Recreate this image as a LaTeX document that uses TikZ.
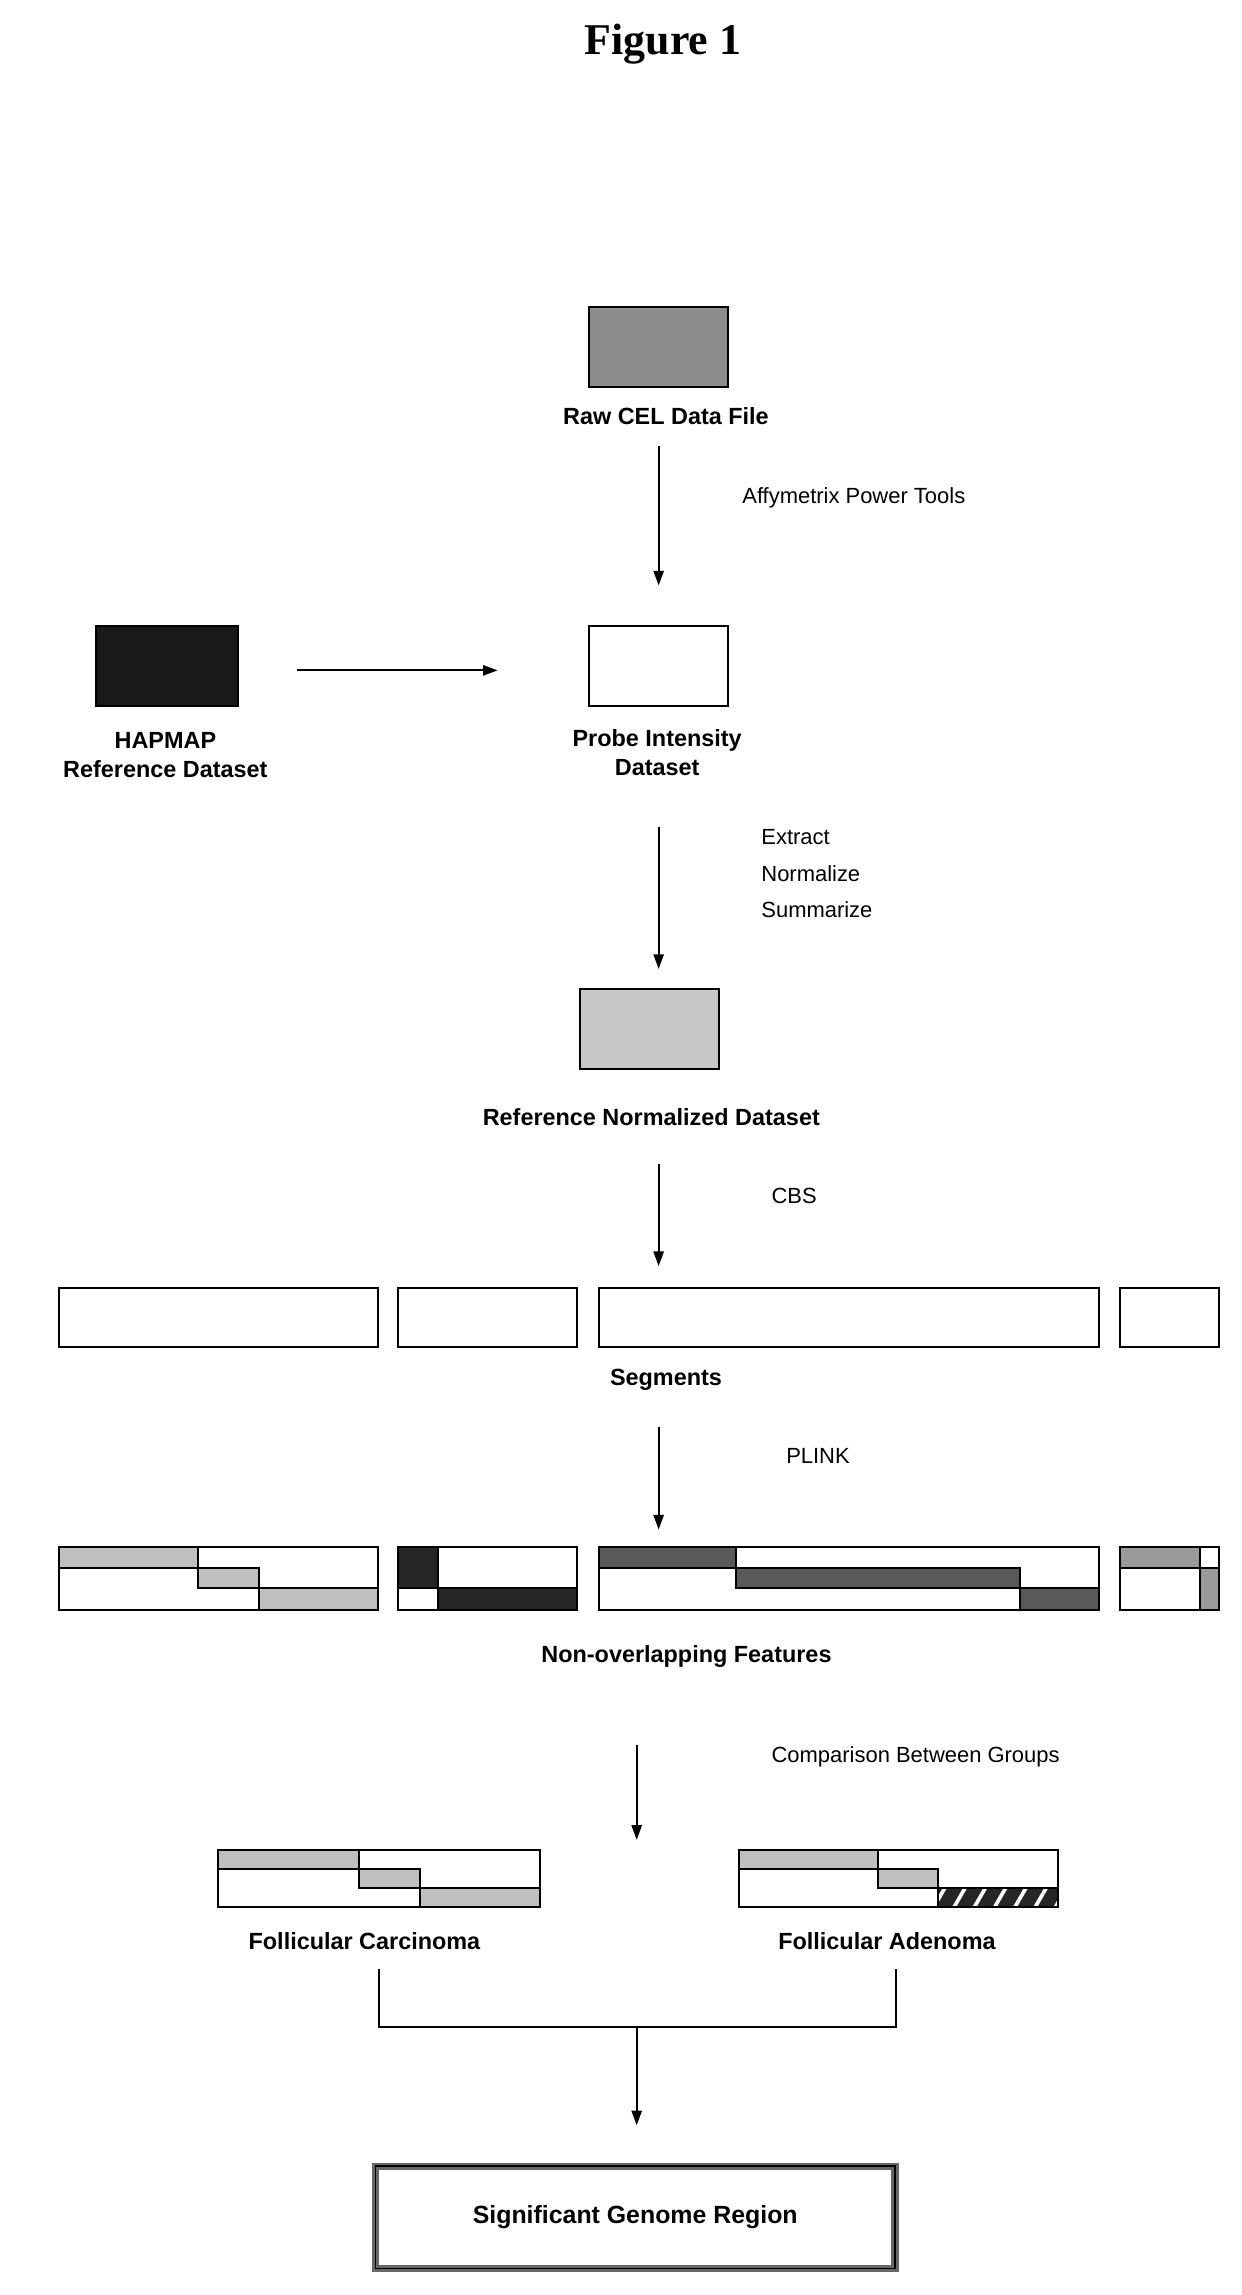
\documentclass[tikz,border=0pt]{standalone}
\usepackage{fontspec}
\setmainfont{Liberation Sans}
\newfontfamily\titlefont{Liberation Serif}
\usetikzlibrary{arrows.meta,patterns.meta}

\tikzset{
  lbl/.style={font=\fontsize{16}{20}\selectfont\bfseries, align=center, inner sep=0pt},
  note/.style={font=\fontsize{15}{25}\selectfont, align=left, anchor=west, inner sep=0pt},
  flow/.style={-{Triangle[length=10pt,width=7pt]}, line width=1.3pt},
  blk/.style={draw, line width=1.4pt, minimum width=#1, minimum height=55pt, inner sep=0pt},
  seg/.style={draw, line width=1.4pt},
}

\begin{document}
\begin{tikzpicture}[x=1pt,y=-1pt]
\useasboundingbox (0,0) rectangle (848,1568);

% title
\node[font=\titlefont\fontsize{30}{34}\selectfont\bfseries] (title) at (453,30) {Figure 1};

% top boxes
\node[blk=95pt, fill=black!45] (raw) at (450,237) {};
\node[lbl] (rawl) at (455,284) {Raw CEL Data File};
\node[blk=97pt, fill=black!90] (hap) at (114,455) {};
\node[lbl] (hapl) at (113,516) {HAPMAP\\Reference Dataset};
\node[blk=95pt] (probe) at (450,455) {};
\node[lbl] (probel) at (449,514) {Probe Intensity\\Dataset};
\node[blk=95pt, fill=black!22] (norm) at (444,703) {};
\node[lbl] (norml) at (445,763) {Reference Normalized Dataset};

\coordinate (a1) at (450,305); \coordinate (a2) at (450,400);
\draw[flow] (a1) -- (a2);
\node[note] (apt) at (507,340) {Affymetrix Power Tools};
\coordinate (h1) at (203,458); \coordinate (h2) at (340,458);
\draw[flow] (h1) -- (h2);
\coordinate (b1) at (450,565); \coordinate (b2) at (450,662);
\draw[flow] (b1) -- (b2);
\node[note] (ens) at (520,597) {Extract\\Normalize\\Summarize};
\coordinate (c1) at (450,795); \coordinate (c2) at (450,865);
\draw[flow] (c1) -- (c2);
\node[note] (cbs) at (527,817) {CBS};

% segments
\foreach \l/\r in {40/258, 272/394, 409/751, 765/833}
  \draw[seg] (\l,880) rectangle (\r,920);
\node[lbl] (segl) at (455,943) {Segments};
\coordinate (d1) at (450,975); \coordinate (d2) at (450,1045);
\draw[flow] (d1) -- (d2);
\node[note] (plink) at (537,995) {PLINK};

% non-overlapping features
\foreach \l/\r/\t/\b/\c in {40/135/1057/1071/25, 135/177/1071/1085/25, 177/258/1085/1100/25,
  272/299/1057/1085/85, 299/394/1085/1100/85,
  409/503/1057/1071/65, 503/697/1071/1085/65, 697/751/1085/1100/65,
  765/820/1057/1071/40, 820/833/1071/1100/40}
  \draw[seg, fill=black!\c] (\l,\t) rectangle (\r,\b);
\foreach \l/\r in {40/258, 272/394, 409/751, 765/833}
  \draw[seg] (\l,1057) rectangle (\r,1100);
\node[lbl] (featl) at (469,1132) {Non-overlapping Features};
\coordinate (e1) at (435,1192); \coordinate (e2) at (435,1257);
\draw[flow] (e1) -- (e2);
\node[note] (cmp) at (527,1200) {Comparison Between Groups};

% groups
\foreach \l/\r/\t/\b in {149/245/1264/1277, 245/287/1277/1290, 287/369/1290/1303,
  505/600/1264/1277, 600/641/1277/1290}
  \draw[seg, fill=black!25] (\l,\t) rectangle (\r,\b);
\fill[black!85] (641,1290) rectangle (723,1303);
\fill[pattern={Lines[angle=60,distance=12pt,line width=2.5pt]}, pattern color=white] (641,1290) rectangle (723,1303);
\draw[seg] (641,1290) rectangle (723,1303);
\draw[seg] (149,1264) rectangle (369,1303);
\draw[seg] (505,1264) rectangle (723,1303);
\node[lbl] (fc) at (249,1326) {Follicular Carcinoma};
\node[lbl] (fa) at (606,1326) {Follicular Adenoma};

\coordinate (j) at (435,1385); \coordinate (k) at (435,1452);
\draw[line width=1.3pt] (259,1345) |- (j) -| (612,1345);
\draw[flow] (j) -- (k);

% result
\node[draw=black!60, line width=5pt, minimum width=355pt, minimum height=70pt,
  font=\fontsize{17}{20}\selectfont\bfseries] (sig) at (434,1515) {Significant Genome Region};
\draw[line width=1pt] ([shift={(2.5,2.5)}]sig.north west) rectangle ([shift={(-2.5,-2.5)}]sig.south east);
\end{tikzpicture}
\end{document}
